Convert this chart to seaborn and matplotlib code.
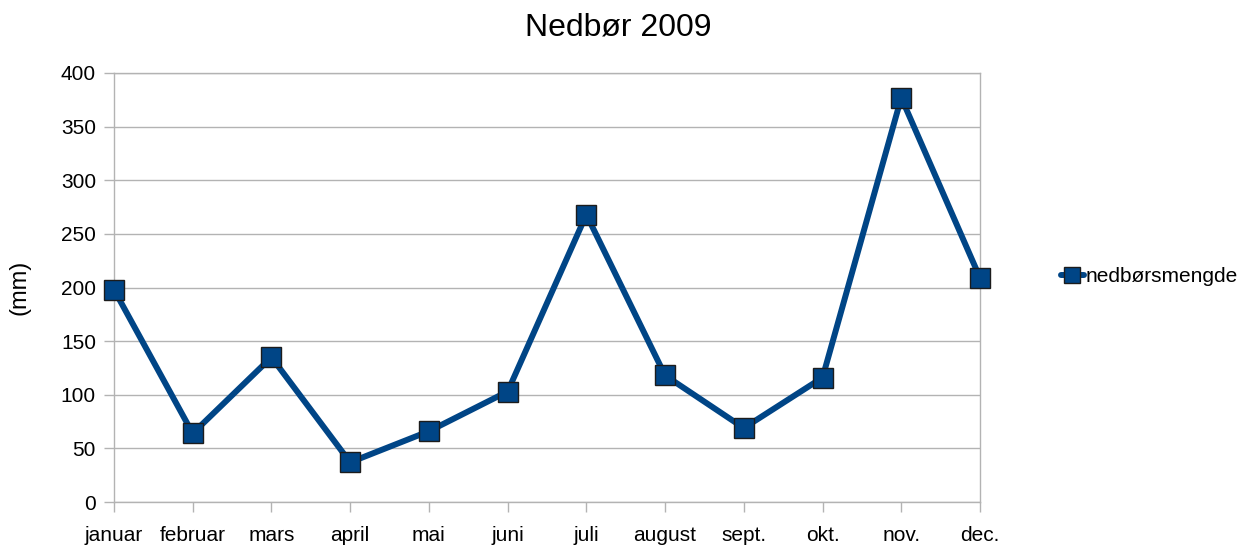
import matplotlib
matplotlib.use("Agg")
import matplotlib.pyplot as plt
import seaborn as sns
import pandas as pd

months = ["januar", "februar", "mars", "april", "mai", "juni",
          "juli", "august", "sept.", "okt.", "nov.", "dec."]
rain_mm = [198, 64, 135, 37, 66, 103, 268, 118, 69, 116, 377, 209]
y_ticks = [0, 50, 100, 150, 200, 250, 300, 350, 400]

df = pd.DataFrame({"måned": months, "nedbørsmengde": rain_mm})

sns.set_theme(style="white")
plt.rcParams["font.family"] = ["Liberation Sans", "DejaVu Sans"]
plt.rcParams["text.color"] = "black"
plt.rcParams["axes.labelcolor"] = "black"

grey = "#b3b3b3"
blue = "#004586"

fig = plt.figure(figsize=(12.44, 5.48), dpi=100)
ax = fig.add_axes([114 / 1244, 1 - 502 / 548, (980 - 114) / 1244, (502 - 73) / 548])

sns.lineplot(data=df, x="måned", y="nedbørsmengde", ax=ax, sort=False,
             color=blue, linewidth=4.3, marker="s", markersize=14,
             markerfacecolor=blue, markeredgecolor="#1c1c1c",
             markeredgewidth=1.0, label="nedbørsmengde", legend=False,
             zorder=5, clip_on=False)

ax.set_xlim(0, len(months) - 1)
ax.set_ylim(0, 400)
ax.set_yticks(y_ticks)
ax.set_xlabel("")
ax.set_ylabel("(mm)", fontsize=17, labelpad=22, color="black")
fig.suptitle("Nedbør 2009", fontsize=23, x=0.497, y=1 - 27 / 548, va="center",
             color="black")

ax.grid(axis="y", color=grey, linewidth=1.0)
ax.grid(axis="x", visible=False)
for side in ["left", "right", "bottom", "top"]:
    ax.spines[side].set_color(grey)
    ax.spines[side].set_linewidth(1.0)
ax.tick_params(axis="both", which="major", direction="out", length=7,
               width=1.0, color=grey, labelsize=15, labelcolor="black",
               bottom=True, left=True)
ax.tick_params(axis="x", pad=10)
ax.tick_params(axis="y", pad=6)

handles, labels = ax.get_legend_handles_labels()
fig.legend(handles, labels, loc="center left",
           bbox_to_anchor=(1046 / 1244, 1 - 277 / 548), frameon=False,
           fontsize=15, handlelength=1.1, handletextpad=0.1, markerscale=0.8,
           labelcolor="black", borderpad=0.2)

fig.savefig("out.png", dpi=100)
